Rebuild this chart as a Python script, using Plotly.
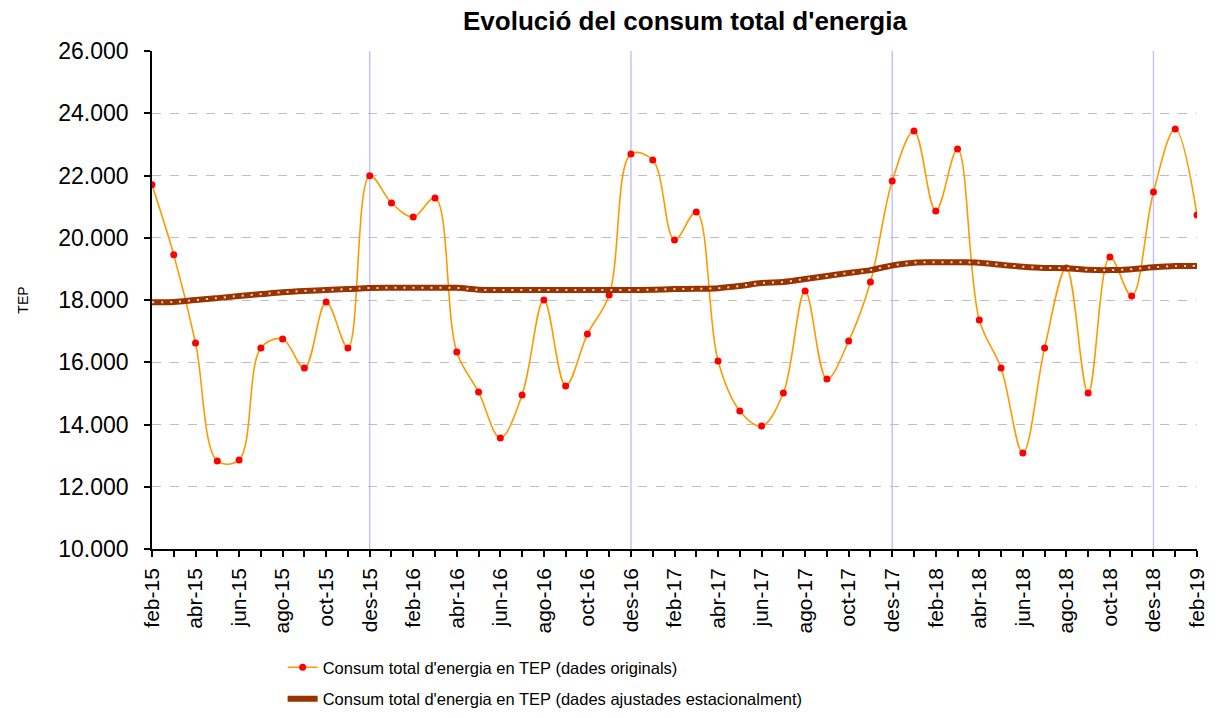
import plotly.graph_objects as go

months = ["feb-15","mar-15","abr-15","mai-15","jun-15","jul-15","ago-15","set-15","oct-15","nov-15",
          "des-15","gen-16","feb-16","mar-16","abr-16","mai-16","jun-16","jul-16","ago-16","set-16",
          "oct-16","nov-16","des-16","gen-17","feb-17","mar-17","abr-17","mai-17","jun-17","jul-17",
          "ago-17","set-17","oct-17","nov-17","des-17","gen-18","feb-18","mar-18","abr-18","mai-18",
          "jun-18","jul-18","ago-18","set-18","oct-18","nov-18","des-18","gen-19","feb-19"]

original = [21700, 19450, 16620, 12830, 12860, 16460, 16750, 15815, 17935, 16460,
            21990, 21120, 20670, 21280, 16330, 15045, 13565, 14950, 18000, 15240,
            16905, 18160, 22690, 22500, 19930, 20830, 16040, 14435, 13950, 15010,
            18290, 15460, 16680, 18580, 21820, 23430, 20860, 22850, 17360, 15815,
            13085, 16460, 19030, 15010, 19380, 18130, 21470, 23495, 20730]

ajustat = [17930, 17935, 18000, 18060, 18130, 18190, 18250, 18290, 18320, 18350,
           18385, 18390, 18390, 18390, 18390, 18330, 18320, 18320, 18320, 18320,
           18320, 18320, 18320, 18330, 18350, 18360, 18380, 18450, 18545, 18580,
           18675, 18770, 18870, 18960, 19110, 19200, 19210, 19210, 19200, 19130,
           19070, 19030, 19020, 18970, 18960, 18990, 19050, 19090, 19090]

x = list(range(len(months)))

fig = go.Figure()

fig.add_trace(go.Scatter(
    x=x, y=original, mode="lines+markers", line=dict(color="#ff9900", width=1.6, shape="spline"),
    marker=dict(color="#ff0000", size=7), legendgroup="a",
    name="Consum total d'energia en TEP (dades originals)"))

fig.add_trace(go.Scatter(
    x=x, y=ajustat, mode="lines", line=dict(color="#993300", width=6, shape="spline"),
    legendgroup="b",
    name="Consum total d'energia en TEP (dades ajustades estacionalment)"))
fig.add_trace(go.Scatter(
    x=x, y=ajustat, mode="lines", line=dict(color="#eedccc", width=2, dash="2px,7px", shape="spline"),
    showlegend=False, hoverinfo="skip", legendgroup="b"))

shapes = []
for i, m in enumerate(months):
    if m.startswith("des"):
        shapes.append(dict(type="line", xref="x", yref="paper", x0=i, x1=i, y0=0, y1=1,
                           line=dict(color="#c4c4f4", width=1.5), layer="below"))

ticktext = [m if i % 2 == 0 else "" for i, m in enumerate(months)]

fig.update_layout(
    width=1220, height=718,
    margin=dict(l=152, r=23, t=51, b=169, autoexpand=False),
    paper_bgcolor="white", plot_bgcolor="white",
    font=dict(family="Liberation Sans, Arial, sans-serif", color="black"),
    separators=",.",
    title=dict(text="<b>Evolució del consum total d'energia</b>", x=0.51, xref="paper",
               y=0.9708, yref="container", xanchor="center", yanchor="middle",
               font=dict(size=26, color="black")),
    shapes=shapes,
    showlegend=True,
    legend=dict(x=0.125, y=-0.203, xanchor="left", yanchor="top",
                font=dict(size=16.5),
                bgcolor="rgba(0,0,0,0)", traceorder="grouped", tracegroupgap=7, itemwidth=30),
    xaxis=dict(range=[0, len(months) - 1], tickvals=x, ticktext=ticktext, tickangle=-90,
               ticks="outside", ticklen=6, tickcolor="black", tickwidth=1.5,
               showline=True, linecolor="black", linewidth=1.5, showgrid=False, zeroline=False,
               tickfont=dict(size=21), ticklabelstandoff=3, automargin=False),
    yaxis=dict(range=[10000, 26000], dtick=2000, tickformat=",d", ticks="outside", ticklen=6,
               tickcolor="black", tickwidth=1.5, showline=True, linecolor="black", linewidth=1.5,
               showgrid=True, gridcolor="#bfbfbf", griddash="dash", gridwidth=1, zeroline=False,
               tickfont=dict(size=23), ticklabelstandoff=11, automargin=False,
               title=dict(text="TEP", font=dict(size=14), standoff=26)),
)

fig.write_html("out.html", config={"displayModeBar": False},
               post_script="document.body.style.margin='0';")
